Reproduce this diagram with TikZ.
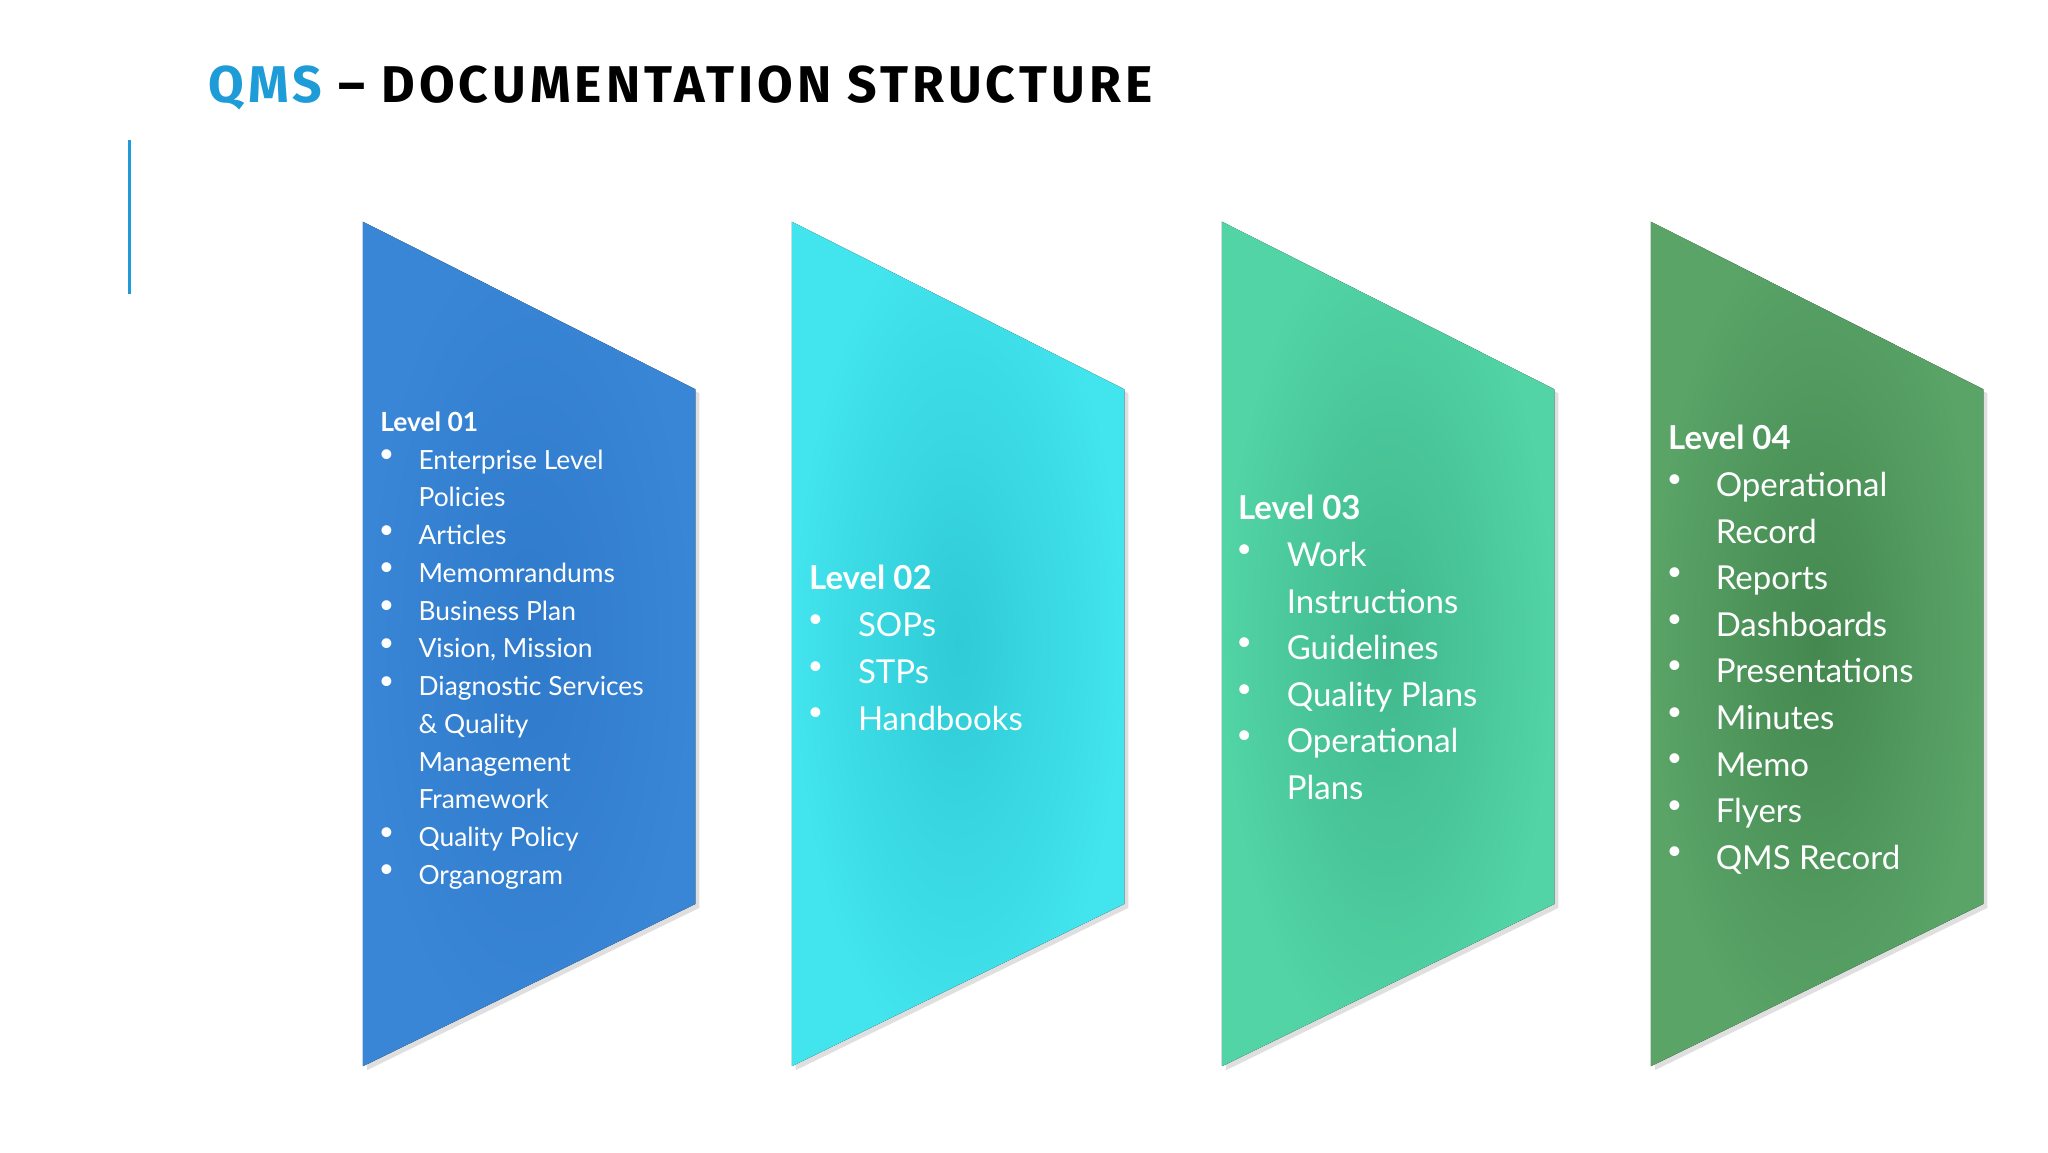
\documentclass[tikz,border=0pt]{standalone}
\usepackage{fontspec}
\setmainfont{Lato}
\newfontfamily\titlefont{Fira Sans}
\usetikzlibrary{shadows}
\definecolor{pA}{HTML}{3A86D6}\definecolor{pAi}{HTML}{2F7ACB}
\definecolor{pB}{HTML}{42E4EE}\definecolor{pBi}{HTML}{2FCBD6}
\definecolor{pC}{HTML}{52D4A6}\definecolor{pCi}{HTML}{40B88C}
\definecolor{pD}{HTML}{5AA468}\definecolor{pDi}{HTML}{44884F}
\definecolor{qblue}{HTML}{1E9CD7}
\tikzset{
 panel/.style={drop shadow={shadow xshift=3pt,shadow yshift=-3pt,opacity=0.25}},
 ln/.style={anchor=base west,text=white,inner sep=0pt},
}
\newcommand{\panelat}[3]{%
 \fill[panel,inner color=#3,outer color=#2] (#1,168)--(#1+252,295)--(#1+252,685)--(#1,808)--cycle;}
\begin{document}
\begin{tikzpicture}[x=1pt,y=-1pt]
\useasboundingbox (0,0) rectangle (1552,873);
\fill[white] (0,0) rectangle (1552,873);
\draw[qblue,line width=2pt] (98,106)--(98,223);
\node[anchor=base west,inner sep=0pt] (title) at (158,78) {\resizebox{715pt}{!}{\titlefont\bfseries\fontsize{40}{40}\selectfont\addfontfeature{LetterSpace=8}\textcolor{qblue}{QMS} – DOCUMENTATION STRUCTURE}};
\panelat{275}{pA}{pAi}
\panelat{600}{pB}{pBi}
\panelat{926}{pC}{pCi}
\panelat{1251}{pD}{pDi}
% Panel 1
\begin{scope}[font=\fontsize{20}{20}\selectfont]
\node[ln,font=\fontsize{20}{20}\selectfont\bfseries] (l1) at (288,327) {Level 01};
\foreach \t/\b [count=\i] in {Enterprise Level/1,Policies/0,Articles/1,Memomrandums/1,Business Plan/1,{Vision, Mission}/1,Diagnostic Services/1,\& Quality/0,Management/0,Framework/0,Quality Policy/1,Organogram/1}{
 \node[ln] (a\i) at (317,327+28.6*\i) {\t};
 \ifnum\b=1 \node[ln] (ab\i) at (287,322+28.6*\i) {•};\fi
}
\end{scope}
\begin{scope}[font=\fontsize{25}{25}\selectfont]
\node[ln,font=\fontsize{25}{25}\selectfont\bfseries] (l2) at (613,447) {Level 02};
\foreach \t/\b [count=\i] in {SOPs/1,STPs/1,Handbooks/1}{
 \node[ln] (b\i) at (650,447+35.4*\i) {\t};
 \ifnum\b=1 \node[ln,font=\fontsize{20}{20}\selectfont] (bb\i) at (612,440+35.4*\i) {•};\fi
}
\node[ln,font=\fontsize{25}{25}\selectfont\bfseries] (l3) at (938,394) {Level 03};
\foreach \t/\b [count=\i] in {Work/1,Instructions/0,Guidelines/1,Quality Plans/1,Operational/1,Plans/0}{
 \node[ln] (c\i) at (975,394+35.3*\i) {\t};
 \ifnum\b=1 \node[ln,font=\fontsize{20}{20}\selectfont] (cb\i) at (937,387+35.3*\i) {•};\fi
}
\node[ln,font=\fontsize{25}{25}\selectfont\bfseries] (l4) at (1264,341) {Level 04};
\foreach \t/\b [count=\i] in {Operational/1,Record/0,Reports/1,Dashboards/1,Presentations/1,Minutes/1,Memo/1,Flyers/1,QMS Record/1}{
 \node[ln] (d\i) at (1300,341+35.3*\i) {\t};
 \ifnum\b=1 \node[ln,font=\fontsize{20}{20}\selectfont] (db\i) at (1263,334+35.3*\i) {•};\fi
}
\end{scope}
\end{tikzpicture}
\end{document}
